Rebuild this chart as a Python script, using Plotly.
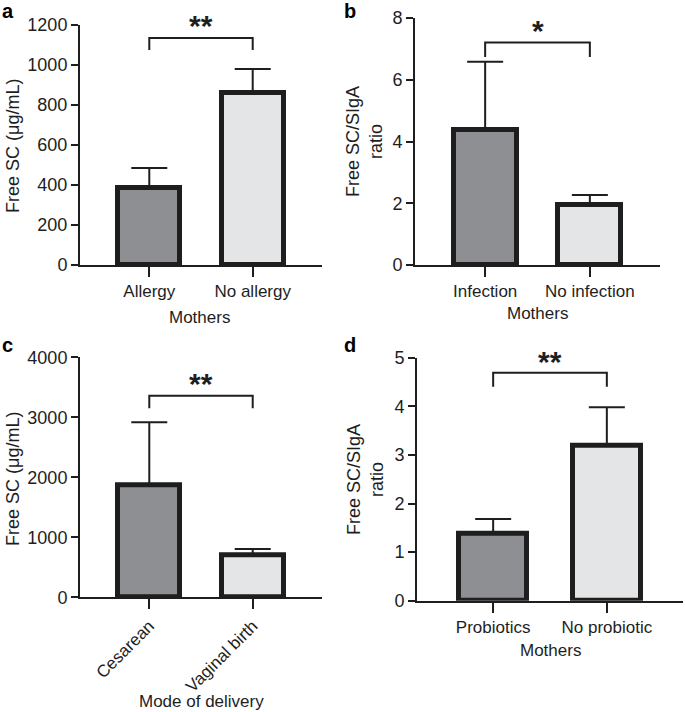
import plotly.graph_objects as go

# ---- data ----
cats_a = ["Allergy", "No allergy"]
mean_a = [385, 860]
err_a = [100, 120]

cats_b = ["Infection", "No infection"]
mean_b = [4.37, 1.94]
err_b = [2.21, 0.33]

cats_c = ["Cesarean", "Vaginal birth"]
mean_c = [1860, 700]
err_c = [1057, 105]

cats_d = ["Probiotics", "No probiotic"]
mean_d = [1.37, 3.19]
err_d = [0.31, 0.79]

sig_a = "**"
sig_b = "*"
sig_c = "**"
sig_d = "**"

W, H = 685, 712
FONT = "Liberation Sans, Arial, sans-serif"
INK = "#1e1e1e"
FILLS = ["#8e8f93", "#e4e5e7"]

fig = go.Figure()

panels = [
    dict(cats=cats_a, mean=mean_a, err=err_a, sig=sig_a, yr=[0, 1200], dt=200,
         px=(80, 322, 25, 265), br=(1135, 1075), sy=1215,
         yt="Free SC (μg/mL)", ytpos=(13, 146), xt="Mothers", xtpos=(200, 318),
         lab="a", labpos=(0, 11), angle=0),
    dict(cats=cats_b, mean=mean_b, err=err_b, sig=sig_b, yr=[0, 8], dt=2,
         px=(415, 660, 18, 265), br=(7.21, 6.74), sy=7.7,
         yt="Free SC/SIgA<br>ratio", ytpos=(364, 142), xt="Mothers", xtpos=(537, 313),
         lab="b", labpos=(342, 11), angle=0),
    dict(cats=cats_c, mean=mean_c, err=err_c, sig=sig_c, yr=[0, 4000], dt=1000,
         px=(80, 322, 357.3, 597.3), br=(3360, 3150), sy=3620,
         yt="Free SC (μg/mL)", ytpos=(13, 479), xt="Mode of delivery", xtpos=(201, 701),
         lab="c", labpos=(0, 345), angle=-45),
    dict(cats=cats_d, mean=mean_d, err=err_d, sig=sig_d, yr=[0, 5], dt=1,
         px=(417, 683, 357.7, 600.7), br=(4.69, 4.40), sy=4.99,
         yt="Free SC/SIgA<br>ratio", ytpos=(366, 479), xt="Mothers", xtpos=(550, 650),
         lab="d", labpos=(342, 345), angle=0),
]


def px_x(v):
    return v / W


def px_y(v):
    return 1 - v / H


annotations = []
for i, p in enumerate(panels, start=1):
    xa = "x" if i == 1 else f"x{i}"
    ya = "y" if i == 1 else f"y{i}"
    x0, x1, yt, yb = p["px"]
    xdom = [px_x(x0), px_x(x1)]
    ydom = [px_y(yb), px_y(yt)]
    xr = [-0.67, 1.67]
    xpos = list(range(len(p["cats"])))
    fig.add_trace(go.Bar(
        x=xpos, y=p["mean"], width=0.6,
        marker=dict(color=FILLS, line=dict(color=INK, width=5)),
        error_y=dict(type="data", array=p["err"], arrayminus=[0] * len(p["err"]),
                     symmetric=False, color=INK, thickness=2, width=18),
        xaxis=xa, yaxis=ya, showlegend=False,
    ))
    top, drop = p["br"]
    fig.add_trace(go.Scatter(
        x=[xpos[0], xpos[0], xpos[1], xpos[1]], y=[drop, top, top, drop],
        mode="lines", line=dict(color=INK, width=2),
        xaxis=xa, yaxis=ya, showlegend=False, hoverinfo="skip",
    ))
    # star label placed in paper coords (computed from data value)
    xm = (xpos[0] + xpos[1]) / 2
    sx = xdom[0] + (xm - xr[0]) / (xr[1] - xr[0]) * (xdom[1] - xdom[0])
    sy = ydom[0] + (p["sy"] - p["yr"][0]) / (p["yr"][1] - p["yr"][0]) * (ydom[1] - ydom[0])
    annotations.append(dict(
        x=sx, y=sy, xref="paper", yref="paper", text=f"<b>{p['sig']}</b>",
        showarrow=False, font=dict(family=FONT, size=30, color=INK),
        xanchor="center", yanchor="middle", yshift=-3,
    ))
    axis_common = dict(showgrid=False, zeroline=False, showline=True, automargin=False,
                       linecolor=INK, linewidth=2, ticks="outside", tickcolor=INK,
                       tickwidth=2)
    xkey = "xaxis" if i == 1 else f"xaxis{i}"
    ykey = "yaxis" if i == 1 else f"yaxis{i}"
    fig.update_layout(**{
        xkey: dict(axis_common, domain=xdom, range=xr,
                   tickvals=xpos, ticktext=p["cats"], ticklen=10, tickangle=p["angle"],
                   tickfont=dict(family=FONT, size=17, color=INK), anchor=ya),
        ykey: dict(axis_common, domain=ydom, range=p["yr"],
                   dtick=p["dt"], tick0=0, ticklen=7,
                   tickfont=dict(family=FONT, size=18, color=INK), anchor=xa),
    })
    annotations.append(dict(
        x=px_x(p["ytpos"][0]), y=px_y(p["ytpos"][1]), xref="paper", yref="paper",
        text=p["yt"], textangle=-90, showarrow=False,
        font=dict(family=FONT, size=18, color=INK), xanchor="center", yanchor="middle",
    ))
    annotations.append(dict(
        x=px_x(p["xtpos"][0]), y=px_y(p["xtpos"][1]), xref="paper", yref="paper",
        text=p["xt"], showarrow=False,
        font=dict(family=FONT, size=17, color=INK), xanchor="center", yanchor="middle",
    ))
    annotations.append(dict(
        x=px_x(p["labpos"][0]), y=px_y(p["labpos"][1]), xref="paper", yref="paper",
        text=f"<b>{p['lab']}</b>", showarrow=False,
        font=dict(family=FONT, size=20, color="#000"), xanchor="left", yanchor="middle",
    ))

fig.update_layout(
    width=W, height=H, margin=dict(l=0, r=0, t=0, b=0, autoexpand=False),
    paper_bgcolor="white", plot_bgcolor="white",
    annotations=annotations, bargap=0,
)

fig.write_html(
    "out.html",
    config={"displayModeBar": False},
    post_script="document.body.style.margin='0';document.body.style.padding='0';"
                "document.body.style.overflow='hidden';",
)
